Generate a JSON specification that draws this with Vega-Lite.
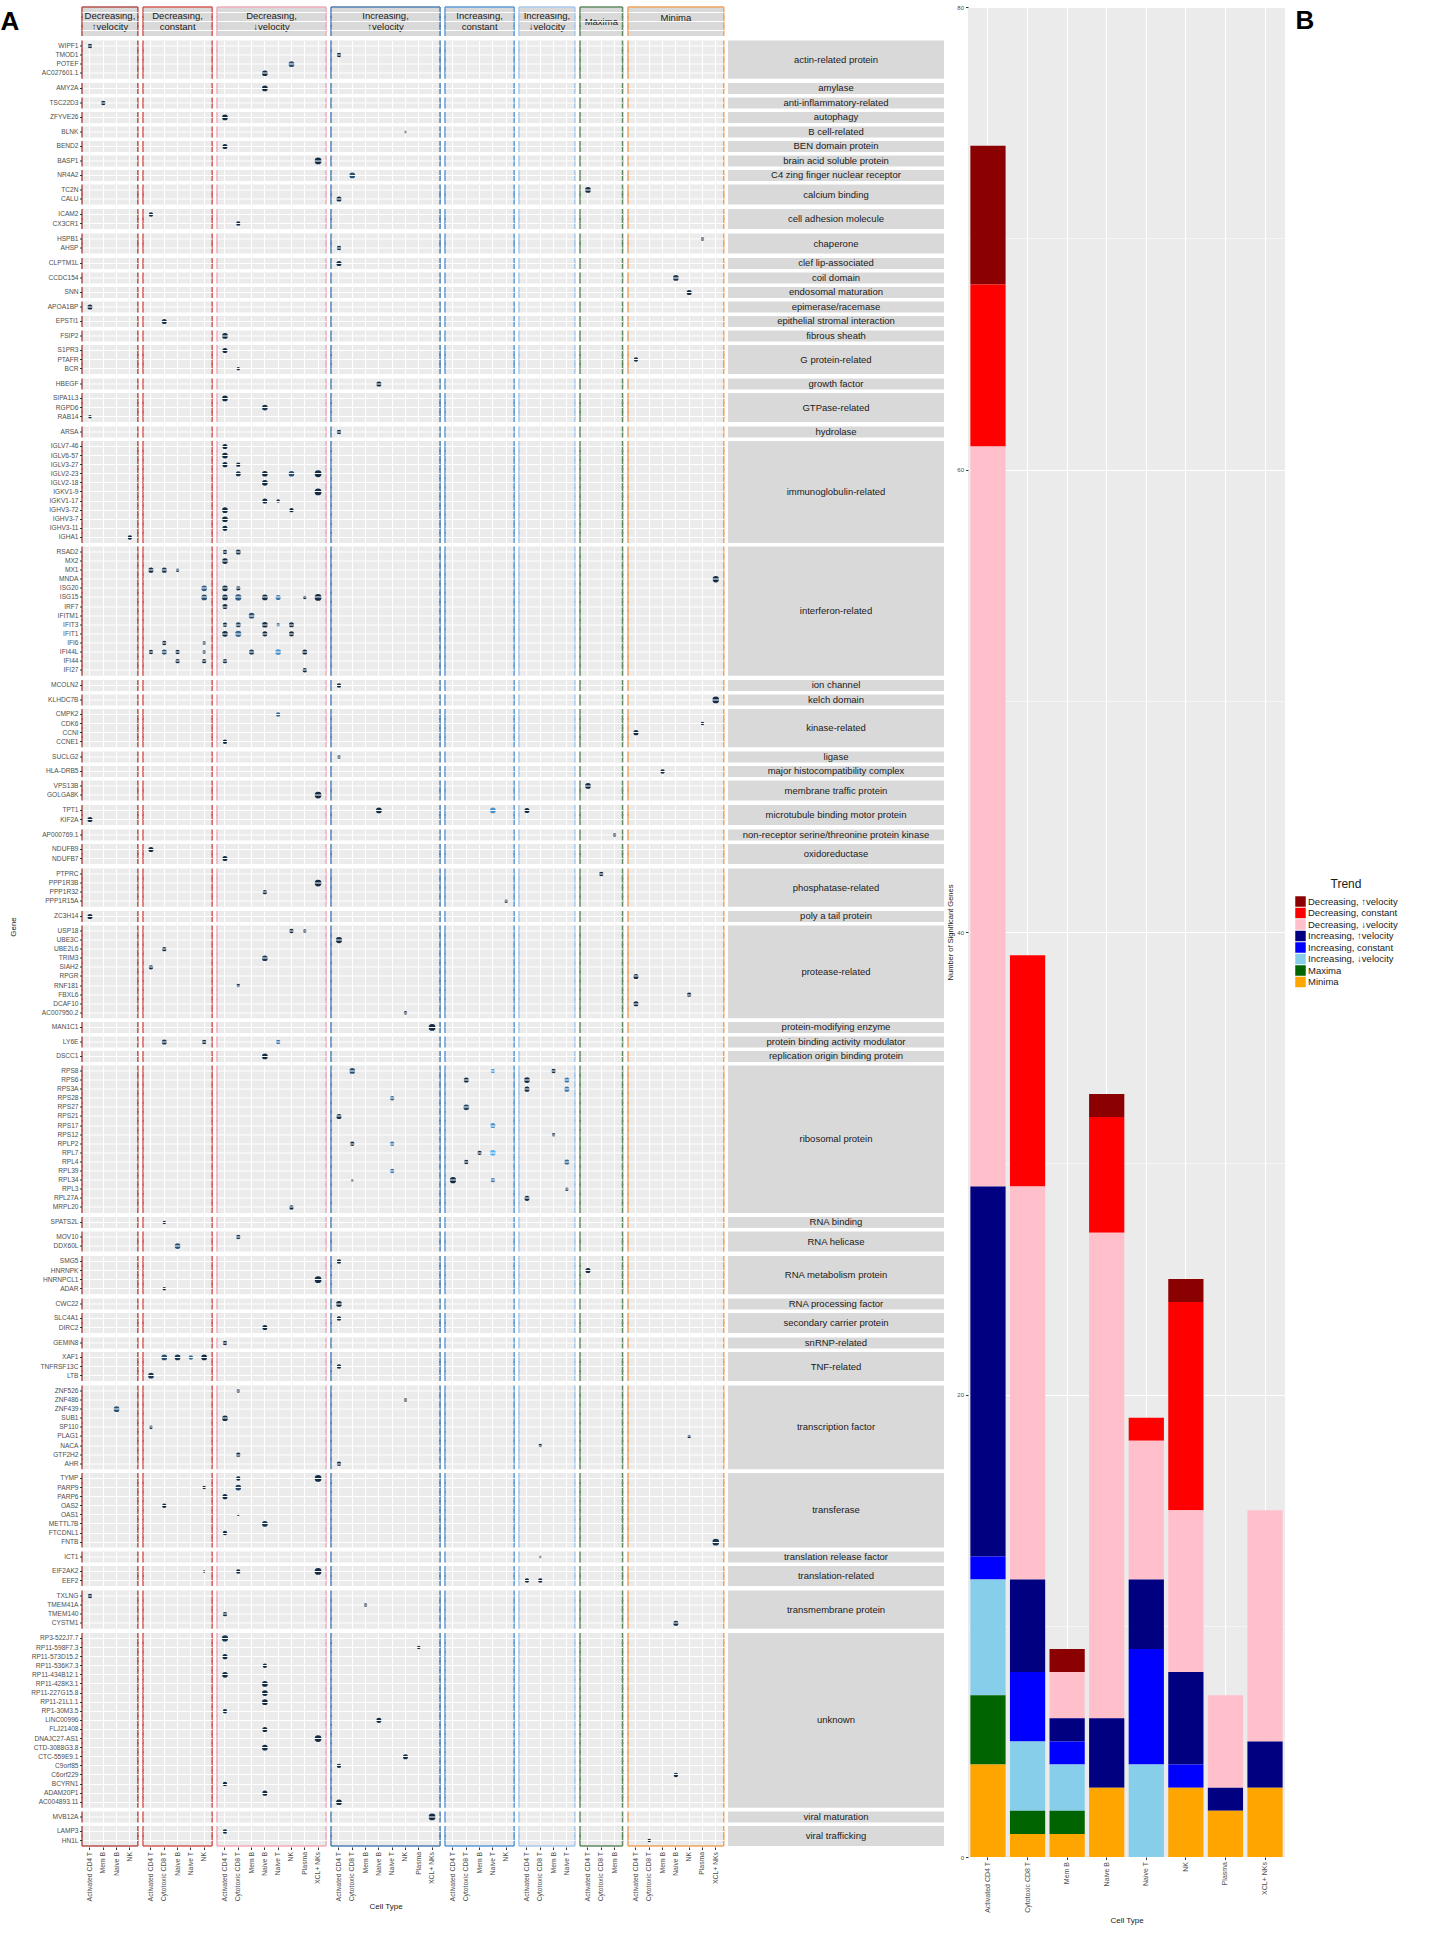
{
  "$schema": "https://vega.github.io/schema/vega-lite/v6.json",
  "background": "white",
  "padding": {"left": 0, "top": 4, "right": 2, "bottom": 2},
  "spacing": 2,
  "datasets": {
    "a": [
      {"k":"h","c":" ","g":"~1"},
      {"k":"h","c":" ","g":"~3"},
      {"k":"t","c":" ","g":"~2","t":"Decreasing, ↑velocity","lab":"Decreasing,\n↑velocity"},
      {"k":"t","c":" ","g":"~2","t":"Decreasing, constant","lab":"Decreasing,\nconstant"},
      {"k":"t","c":" ","g":"~2","t":"Decreasing, ↓velocity","lab":"Decreasing,\n↓velocity"},
      {"k":"t","c":" ","g":"~2","t":"Increasing, ↑velocity","lab":"Increasing,\n↑velocity"},
      {"k":"t","c":" ","g":"~2","t":"Increasing, constant","lab":"Increasing,\nconstant"},
      {"k":"t","c":" ","g":"~2","t":"Increasing, ↓velocity","lab":"Increasing,\n↓velocity"},
      {"k":"t","c":" ","g":"~2","t":"Maxima","lab":"Maxima"},
      {"k":"t","c":" ","g":"~2","t":"Minima","lab":"Minima"},

      {"k":"d","c":"actin-related protein","g":"WIPF1","t":"Decreasing, ↑velocity","ct":"Activated CD4 T","s":2,"v":0},
      {"k":"d","c":"actin-related protein","g":"TMOD1","t":"Increasing, ↑velocity","ct":"Activated CD4 T","s":2,"v":0},
      {"k":"d","c":"actin-related protein","g":"POTEF","t":"Decreasing, ↓velocity","ct":"NK","s":3,"v":0.3},
      {"k":"d","c":"actin-related protein","g":"AC027601.1","t":"Decreasing, ↓velocity","ct":"Naive B","s":3,"v":0},
      {"k":"d","c":"amylase","g":"AMY2A","t":"Decreasing, ↓velocity","ct":"Naive B","s":3,"v":0},
      {"k":"d","c":"anti-inflammatory-related","g":"TSC22D3","t":"Decreasing, ↑velocity","ct":"Mem B","s":2,"v":0},
      {"k":"d","c":"autophagy","g":"ZFYVE26","t":"Decreasing, ↓velocity","ct":"Activated CD4 T","s":3,"v":0},
      {"k":"d","c":"B cell-related","g":"BLNK","t":"Increasing, ↑velocity","ct":"NK","s":1,"v":0},
      {"k":"d","c":"BEN domain protein","g":"BEND2","t":"Decreasing, ↓velocity","ct":"Activated CD4 T","s":2.5,"v":0},
      {"k":"d","c":"brain acid soluble protein","g":"BASP1","t":"Decreasing, ↓velocity","ct":"XCL+ NKs","s":4,"v":0},
      {"k":"d","c":"C4 zing finger nuclear receptor","g":"NR4A2","t":"Increasing, ↑velocity","ct":"Cytotoxic CD8 T","s":3,"v":0.3},
      {"k":"d","c":"calcium binding","g":"TC2N","t":"Maxima","ct":"Activated CD4 T","s":3,"v":0},
      {"k":"d","c":"calcium binding","g":"CALU","t":"Increasing, ↑velocity","ct":"Activated CD4 T","s":2.5,"v":0},
      {"k":"d","c":"cell adhesion molecule","g":"ICAM2","t":"Decreasing, constant","ct":"Activated CD4 T","s":2,"v":0},
      {"k":"d","c":"cell adhesion molecule","g":"CX3CR1","t":"Decreasing, ↓velocity","ct":"Cytotoxic CD8 T","s":2,"v":0},
      {"k":"d","c":"chaperone","g":"HSPB1","t":"Minima","ct":"Plasma","s":1.5,"v":0},
      {"k":"d","c":"chaperone","g":"AHSP","t":"Increasing, ↑velocity","ct":"Activated CD4 T","s":2,"v":0},
      {"k":"d","c":"clef lip-associated","g":"CLPTM1L","t":"Increasing, ↑velocity","ct":"Activated CD4 T","s":2.5,"v":0},
      {"k":"d","c":"coil domain","g":"CCDC154","t":"Minima","ct":"Naive B","s":3,"v":0.1},
      {"k":"d","c":"endosomal maturation","g":"SNN","t":"Minima","ct":"NK","s":2.5,"v":0},
      {"k":"d","c":"epimerase/racemase","g":"APOA1BP","t":"Decreasing, ↑velocity","ct":"Activated CD4 T","s":2.5,"v":0},
      {"k":"d","c":"epithelial stromal interaction","g":"EPSTI1","t":"Decreasing, constant","ct":"Cytotoxic CD8 T","s":2.5,"v":0.1},
      {"k":"d","c":"fibrous sheath","g":"FSIP2","t":"Decreasing, ↓velocity","ct":"Activated CD4 T","s":3,"v":0},
      {"k":"d","c":"G protein-related","g":"S1PR3","t":"Decreasing, ↓velocity","ct":"Activated CD4 T","s":2.5,"v":0},
      {"k":"d","c":"G protein-related","g":"PTAFR","t":"Minima","ct":"Activated CD4 T","s":2,"v":0},
      {"k":"d","c":"G protein-related","g":"BCR","t":"Decreasing, ↓velocity","ct":"Cytotoxic CD8 T","s":1.5,"v":0},
      {"k":"d","c":"growth factor","g":"HBEGF","t":"Increasing, ↑velocity","ct":"Naive B","s":2.5,"v":0},
      {"k":"d","c":"GTPase-related","g":"SIPA1L3","t":"Decreasing, ↓velocity","ct":"Activated CD4 T","s":3,"v":0},
      {"k":"d","c":"GTPase-related","g":"RGPD6","t":"Decreasing, ↓velocity","ct":"Naive B","s":3,"v":0.1},
      {"k":"d","c":"GTPase-related","g":"RAB14","t":"Decreasing, ↑velocity","ct":"Activated CD4 T","s":1.5,"v":0},
      {"k":"d","c":"hydrolase","g":"ARSA","t":"Increasing, ↑velocity","ct":"Activated CD4 T","s":2,"v":0},
      {"k":"d","c":"immunoglobulin-related","g":"IGLV7-46","t":"Decreasing, ↓velocity","ct":"Activated CD4 T","s":2.5,"v":0},
      {"k":"d","c":"immunoglobulin-related","g":"IGLV6-57","t":"Decreasing, ↓velocity","ct":"Activated CD4 T","s":3,"v":0},
      {"k":"d","c":"immunoglobulin-related","g":"IGLV3-27","t":"Decreasing, ↓velocity","ct":"Activated CD4 T","s":2.5,"v":0},
      {"k":"d","c":"immunoglobulin-related","g":"IGLV3-27","t":"Decreasing, ↓velocity","ct":"Cytotoxic CD8 T","s":2,"v":0},
      {"k":"d","c":"immunoglobulin-related","g":"IGLV2-23","t":"Decreasing, ↓velocity","ct":"Cytotoxic CD8 T","s":2.5,"v":0.1},
      {"k":"d","c":"immunoglobulin-related","g":"IGLV2-23","t":"Decreasing, ↓velocity","ct":"Naive B","s":3,"v":0},
      {"k":"d","c":"immunoglobulin-related","g":"IGLV2-23","t":"Decreasing, ↓velocity","ct":"NK","s":3,"v":0.3},
      {"k":"d","c":"immunoglobulin-related","g":"IGLV2-23","t":"Decreasing, ↓velocity","ct":"XCL+ NKs","s":4,"v":0},
      {"k":"d","c":"immunoglobulin-related","g":"IGLV2-18","t":"Decreasing, ↓velocity","ct":"Naive B","s":3,"v":0},
      {"k":"d","c":"immunoglobulin-related","g":"IGKV1-9","t":"Decreasing, ↓velocity","ct":"XCL+ NKs","s":4,"v":0},
      {"k":"d","c":"immunoglobulin-related","g":"IGKV1-17","t":"Decreasing, ↓velocity","ct":"Naive B","s":2.5,"v":0},
      {"k":"d","c":"immunoglobulin-related","g":"IGKV1-17","t":"Decreasing, ↓velocity","ct":"Naive T","s":1.5,"v":0},
      {"k":"d","c":"immunoglobulin-related","g":"IGHV3-72","t":"Decreasing, ↓velocity","ct":"Activated CD4 T","s":3,"v":0},
      {"k":"d","c":"immunoglobulin-related","g":"IGHV3-72","t":"Decreasing, ↓velocity","ct":"NK","s":2,"v":0},
      {"k":"d","c":"immunoglobulin-related","g":"IGHV3-7","t":"Decreasing, ↓velocity","ct":"Activated CD4 T","s":3,"v":0},
      {"k":"d","c":"immunoglobulin-related","g":"IGHV3-11","t":"Decreasing, ↓velocity","ct":"Activated CD4 T","s":2.5,"v":0},
      {"k":"d","c":"immunoglobulin-related","g":"IGHA1","t":"Decreasing, ↑velocity","ct":"NK","s":2,"v":0},
      {"k":"d","c":"interferon-related","g":"RSAD2","t":"Decreasing, ↓velocity","ct":"Activated CD4 T","s":2,"v":0},
      {"k":"d","c":"interferon-related","g":"RSAD2","t":"Decreasing, ↓velocity","ct":"Cytotoxic CD8 T","s":2.5,"v":0.1},
      {"k":"d","c":"interferon-related","g":"MX2","t":"Decreasing, ↓velocity","ct":"Activated CD4 T","s":3,"v":0},
      {"k":"d","c":"interferon-related","g":"MX1","t":"Decreasing, constant","ct":"Activated CD4 T","s":2.5,"v":0},
      {"k":"d","c":"interferon-related","g":"MX1","t":"Decreasing, constant","ct":"Cytotoxic CD8 T","s":2.5,"v":0.1},
      {"k":"d","c":"interferon-related","g":"MX1","t":"Decreasing, constant","ct":"Naive B","s":1.5,"v":0},
      {"k":"d","c":"interferon-related","g":"MNDA","t":"Minima","ct":"XCL+ NKs","s":3.5,"v":0},
      {"k":"d","c":"interferon-related","g":"ISG20","t":"Decreasing, constant","ct":"NK","s":3,"v":0.4},
      {"k":"d","c":"interferon-related","g":"ISG20","t":"Decreasing, ↓velocity","ct":"Activated CD4 T","s":3,"v":0},
      {"k":"d","c":"interferon-related","g":"ISG20","t":"Decreasing, ↓velocity","ct":"Cytotoxic CD8 T","s":2,"v":0},
      {"k":"d","c":"interferon-related","g":"ISG15","t":"Decreasing, constant","ct":"NK","s":3,"v":0.3},
      {"k":"d","c":"interferon-related","g":"ISG15","t":"Decreasing, ↓velocity","ct":"Activated CD4 T","s":3,"v":0},
      {"k":"d","c":"interferon-related","g":"ISG15","t":"Decreasing, ↓velocity","ct":"Cytotoxic CD8 T","s":3.5,"v":0.4},
      {"k":"d","c":"interferon-related","g":"ISG15","t":"Decreasing, ↓velocity","ct":"Naive B","s":3,"v":0},
      {"k":"d","c":"interferon-related","g":"ISG15","t":"Decreasing, ↓velocity","ct":"Naive T","s":2.5,"v":0.6},
      {"k":"d","c":"interferon-related","g":"ISG15","t":"Decreasing, ↓velocity","ct":"Plasma","s":1.5,"v":0},
      {"k":"d","c":"interferon-related","g":"ISG15","t":"Decreasing, ↓velocity","ct":"XCL+ NKs","s":4,"v":0},
      {"k":"d","c":"interferon-related","g":"IRF7","t":"Decreasing, ↓velocity","ct":"Activated CD4 T","s":2.5,"v":0},
      {"k":"d","c":"interferon-related","g":"IFITM1","t":"Decreasing, ↓velocity","ct":"Mem B","s":3,"v":0.3},
      {"k":"d","c":"interferon-related","g":"IFIT3","t":"Decreasing, ↓velocity","ct":"Activated CD4 T","s":2,"v":0},
      {"k":"d","c":"interferon-related","g":"IFIT3","t":"Decreasing, ↓velocity","ct":"Cytotoxic CD8 T","s":2.5,"v":0.2},
      {"k":"d","c":"interferon-related","g":"IFIT3","t":"Decreasing, ↓velocity","ct":"Naive B","s":3,"v":0},
      {"k":"d","c":"interferon-related","g":"IFIT3","t":"Decreasing, ↓velocity","ct":"Naive T","s":1.5,"v":0.4},
      {"k":"d","c":"interferon-related","g":"IFIT3","t":"Decreasing, ↓velocity","ct":"NK","s":2.5,"v":0},
      {"k":"d","c":"interferon-related","g":"IFIT1","t":"Decreasing, ↓velocity","ct":"Activated CD4 T","s":3,"v":0},
      {"k":"d","c":"interferon-related","g":"IFIT1","t":"Decreasing, ↓velocity","ct":"Cytotoxic CD8 T","s":3.5,"v":0.5},
      {"k":"d","c":"interferon-related","g":"IFIT1","t":"Decreasing, ↓velocity","ct":"Naive B","s":2.5,"v":0},
      {"k":"d","c":"interferon-related","g":"IFIT1","t":"Decreasing, ↓velocity","ct":"NK","s":2.5,"v":0},
      {"k":"d","c":"interferon-related","g":"IFI6","t":"Decreasing, constant","ct":"Cytotoxic CD8 T","s":2,"v":0},
      {"k":"d","c":"interferon-related","g":"IFI6","t":"Decreasing, constant","ct":"NK","s":1.5,"v":0},
      {"k":"d","c":"interferon-related","g":"IFI44L","t":"Decreasing, constant","ct":"Activated CD4 T","s":2,"v":0},
      {"k":"d","c":"interferon-related","g":"IFI44L","t":"Decreasing, constant","ct":"Cytotoxic CD8 T","s":2.5,"v":0.3},
      {"k":"d","c":"interferon-related","g":"IFI44L","t":"Decreasing, constant","ct":"Naive B","s":2,"v":0},
      {"k":"d","c":"interferon-related","g":"IFI44L","t":"Decreasing, constant","ct":"NK","s":1.5,"v":0},
      {"k":"d","c":"interferon-related","g":"IFI44L","t":"Decreasing, ↓velocity","ct":"Mem B","s":2.5,"v":0.1},
      {"k":"d","c":"interferon-related","g":"IFI44L","t":"Decreasing, ↓velocity","ct":"Naive T","s":3,"v":0.8},
      {"k":"d","c":"interferon-related","g":"IFI44L","t":"Decreasing, ↓velocity","ct":"Plasma","s":2.5,"v":0},
      {"k":"d","c":"interferon-related","g":"IFI44","t":"Decreasing, constant","ct":"Naive B","s":2,"v":0},
      {"k":"d","c":"interferon-related","g":"IFI44","t":"Decreasing, constant","ct":"NK","s":2,"v":0},
      {"k":"d","c":"interferon-related","g":"IFI44","t":"Decreasing, ↓velocity","ct":"Activated CD4 T","s":2,"v":0},
      {"k":"d","c":"interferon-related","g":"IFI27","t":"Decreasing, ↓velocity","ct":"Plasma","s":2,"v":0},
      {"k":"d","c":"ion channel","g":"MCOLN2","t":"Increasing, ↑velocity","ct":"Activated CD4 T","s":2,"v":0},
      {"k":"d","c":"kelch domain","g":"KLHDC7B","t":"Minima","ct":"XCL+ NKs","s":4,"v":0},
      {"k":"d","c":"kinase-related","g":"CMPK2","t":"Decreasing, ↓velocity","ct":"Naive T","s":2,"v":0.5},
      {"k":"d","c":"kinase-related","g":"CDK6","t":"Minima","ct":"Plasma","s":1.5,"v":0},
      {"k":"d","c":"kinase-related","g":"CCNI","t":"Minima","ct":"Activated CD4 T","s":2.5,"v":0},
      {"k":"d","c":"kinase-related","g":"CCNE1","t":"Decreasing, ↓velocity","ct":"Activated CD4 T","s":2,"v":0},
      {"k":"d","c":"ligase","g":"SUCLG2","t":"Increasing, ↑velocity","ct":"Activated CD4 T","s":1.5,"v":0},
      {"k":"d","c":"major histocompatibility complex","g":"HLA-DRB5","t":"Minima","ct":"Mem B","s":2,"v":0},
      {"k":"d","c":"membrane traffic protein","g":"VPS13B","t":"Maxima","ct":"Activated CD4 T","s":3,"v":0},
      {"k":"d","c":"membrane traffic protein","g":"GOLGA8K","t":"Decreasing, ↓velocity","ct":"XCL+ NKs","s":4,"v":0},
      {"k":"d","c":"microtubule binding motor protein","g":"TPT1","t":"Increasing, ↑velocity","ct":"Naive B","s":3,"v":0},
      {"k":"d","c":"microtubule binding motor protein","g":"TPT1","t":"Increasing, constant","ct":"Naive T","s":3,"v":0.8},
      {"k":"d","c":"microtubule binding motor protein","g":"TPT1","t":"Increasing, ↓velocity","ct":"Activated CD4 T","s":2.5,"v":0},
      {"k":"d","c":"microtubule binding motor protein","g":"KIF2A","t":"Decreasing, ↑velocity","ct":"Activated CD4 T","s":2.5,"v":0},
      {"k":"d","c":"non-receptor serine/threonine protein kinase","g":"AP000769.1","t":"Maxima","ct":"Mem B","s":1.5,"v":0},
      {"k":"d","c":"oxidoreductase","g":"NDUFB9","t":"Decreasing, constant","ct":"Activated CD4 T","s":2.5,"v":0},
      {"k":"d","c":"oxidoreductase","g":"NDUFB7","t":"Decreasing, ↓velocity","ct":"Activated CD4 T","s":2.5,"v":0},
      {"k":"d","c":"phosphatase-related","g":"PTPRC","t":"Maxima","ct":"Cytotoxic CD8 T","s":2,"v":0},
      {"k":"d","c":"phosphatase-related","g":"PPP1R3B","t":"Decreasing, ↓velocity","ct":"XCL+ NKs","s":4,"v":0},
      {"k":"d","c":"phosphatase-related","g":"PPP1R32","t":"Decreasing, ↓velocity","ct":"Naive B","s":2,"v":0},
      {"k":"d","c":"phosphatase-related","g":"PPP1R15A","t":"Increasing, constant","ct":"NK","s":1.5,"v":0},
      {"k":"d","c":"poly a tail protein","g":"ZC3H14","t":"Decreasing, ↑velocity","ct":"Activated CD4 T","s":2.5,"v":0},
      {"k":"d","c":"protease-related","g":"USP18","t":"Decreasing, ↓velocity","ct":"NK","s":2,"v":0},
      {"k":"d","c":"protease-related","g":"USP18","t":"Decreasing, ↓velocity","ct":"Plasma","s":1.5,"v":0},
      {"k":"d","c":"protease-related","g":"UBE3C","t":"Increasing, ↑velocity","ct":"Activated CD4 T","s":3.5,"v":0},
      {"k":"d","c":"protease-related","g":"UBE2L6","t":"Decreasing, constant","ct":"Cytotoxic CD8 T","s":2,"v":0},
      {"k":"d","c":"protease-related","g":"TRIM3","t":"Decreasing, ↓velocity","ct":"Naive B","s":3,"v":0.1},
      {"k":"d","c":"protease-related","g":"SIAH2","t":"Decreasing, constant","ct":"Activated CD4 T","s":2,"v":0},
      {"k":"d","c":"protease-related","g":"RPGR","t":"Minima","ct":"Activated CD4 T","s":2.5,"v":0},
      {"k":"d","c":"protease-related","g":"RNF181","t":"Decreasing, ↓velocity","ct":"Cytotoxic CD8 T","s":1.5,"v":0},
      {"k":"d","c":"protease-related","g":"FBXL6","t":"Minima","ct":"NK","s":2,"v":0},
      {"k":"d","c":"protease-related","g":"DCAF10","t":"Minima","ct":"Activated CD4 T","s":2.5,"v":0},
      {"k":"d","c":"protease-related","g":"AC007950.2","t":"Increasing, ↑velocity","ct":"NK","s":1.5,"v":0},
      {"k":"d","c":"protein-modifying enzyme","g":"MAN1C1","t":"Increasing, ↑velocity","ct":"XCL+ NKs","s":4,"v":0},
      {"k":"d","c":"protein binding activity modulator","g":"LY6E","t":"Decreasing, constant","ct":"Cytotoxic CD8 T","s":2.5,"v":0.1},
      {"k":"d","c":"protein binding activity modulator","g":"LY6E","t":"Decreasing, constant","ct":"NK","s":2,"v":0},
      {"k":"d","c":"protein binding activity modulator","g":"LY6E","t":"Decreasing, ↓velocity","ct":"Naive T","s":2,"v":0.6},
      {"k":"d","c":"replication origin binding protein","g":"DSCC1","t":"Decreasing, ↓velocity","ct":"Naive B","s":3,"v":0},
      {"k":"d","c":"ribosomal protein","g":"RPS8","t":"Increasing, ↑velocity","ct":"Cytotoxic CD8 T","s":3,"v":0.3},
      {"k":"d","c":"ribosomal protein","g":"RPS8","t":"Increasing, constant","ct":"Naive T","s":2,"v":0.9},
      {"k":"d","c":"ribosomal protein","g":"RPS8","t":"Increasing, ↓velocity","ct":"Mem B","s":2,"v":0},
      {"k":"d","c":"ribosomal protein","g":"RPS6","t":"Increasing, constant","ct":"Cytotoxic CD8 T","s":2.5,"v":0},
      {"k":"d","c":"ribosomal protein","g":"RPS6","t":"Increasing, ↓velocity","ct":"Activated CD4 T","s":3,"v":0},
      {"k":"d","c":"ribosomal protein","g":"RPS6","t":"Increasing, ↓velocity","ct":"Naive T","s":2.5,"v":0.6},
      {"k":"d","c":"ribosomal protein","g":"RPS3A","t":"Increasing, ↓velocity","ct":"Activated CD4 T","s":2.5,"v":0},
      {"k":"d","c":"ribosomal protein","g":"RPS3A","t":"Increasing, ↓velocity","ct":"Naive T","s":2.5,"v":0.6},
      {"k":"d","c":"ribosomal protein","g":"RPS28","t":"Increasing, ↑velocity","ct":"Naive T","s":2,"v":0.5},
      {"k":"d","c":"ribosomal protein","g":"RPS27","t":"Increasing, constant","ct":"Cytotoxic CD8 T","s":3,"v":0.2},
      {"k":"d","c":"ribosomal protein","g":"RPS21","t":"Increasing, ↑velocity","ct":"Activated CD4 T","s":2.5,"v":0},
      {"k":"d","c":"ribosomal protein","g":"RPS17","t":"Increasing, constant","ct":"Naive T","s":2.5,"v":0.8},
      {"k":"d","c":"ribosomal protein","g":"RPS12","t":"Increasing, ↓velocity","ct":"Mem B","s":1.5,"v":0},
      {"k":"d","c":"ribosomal protein","g":"RPLP2","t":"Increasing, ↑velocity","ct":"Cytotoxic CD8 T","s":2,"v":0},
      {"k":"d","c":"ribosomal protein","g":"RPLP2","t":"Increasing, ↑velocity","ct":"Naive T","s":2,"v":0.6},
      {"k":"d","c":"ribosomal protein","g":"RPL7","t":"Increasing, constant","ct":"Mem B","s":2,"v":0},
      {"k":"d","c":"ribosomal protein","g":"RPL7","t":"Increasing, constant","ct":"Naive T","s":3,"v":1},
      {"k":"d","c":"ribosomal protein","g":"RPL4","t":"Increasing, constant","ct":"Cytotoxic CD8 T","s":2,"v":0},
      {"k":"d","c":"ribosomal protein","g":"RPL4","t":"Increasing, ↓velocity","ct":"Naive T","s":2.5,"v":0.5},
      {"k":"d","c":"ribosomal protein","g":"RPL39","t":"Increasing, ↑velocity","ct":"Naive T","s":2,"v":0.6},
      {"k":"d","c":"ribosomal protein","g":"RPL34","t":"Increasing, ↑velocity","ct":"Cytotoxic CD8 T","s":1,"v":0},
      {"k":"d","c":"ribosomal protein","g":"RPL34","t":"Increasing, constant","ct":"Activated CD4 T","s":3.5,"v":0},
      {"k":"d","c":"ribosomal protein","g":"RPL34","t":"Increasing, constant","ct":"Naive T","s":2,"v":0.6},
      {"k":"d","c":"ribosomal protein","g":"RPL3","t":"Increasing, ↓velocity","ct":"Naive T","s":1.5,"v":0},
      {"k":"d","c":"ribosomal protein","g":"RPL27A","t":"Increasing, ↓velocity","ct":"Activated CD4 T","s":2.5,"v":0},
      {"k":"d","c":"ribosomal protein","g":"MRPL20","t":"Decreasing, ↓velocity","ct":"NK","s":2,"v":0},
      {"k":"d","c":"RNA binding","g":"SPATS2L","t":"Decreasing, constant","ct":"Cytotoxic CD8 T","s":1.5,"v":0},
      {"k":"d","c":"RNA helicase","g":"MOV10","t":"Decreasing, ↓velocity","ct":"Cytotoxic CD8 T","s":2,"v":0.1},
      {"k":"d","c":"RNA helicase","g":"DDX60L","t":"Decreasing, constant","ct":"Naive B","s":3,"v":0.3},
      {"k":"d","c":"RNA metabolism protein","g":"SMG5","t":"Increasing, ↑velocity","ct":"Activated CD4 T","s":2,"v":0},
      {"k":"d","c":"RNA metabolism protein","g":"HNRNPK","t":"Maxima","ct":"Activated CD4 T","s":2.5,"v":0},
      {"k":"d","c":"RNA metabolism protein","g":"HNRNPCL1","t":"Decreasing, ↓velocity","ct":"XCL+ NKs","s":4,"v":0},
      {"k":"d","c":"RNA metabolism protein","g":"ADAR","t":"Decreasing, constant","ct":"Cytotoxic CD8 T","s":1.5,"v":0},
      {"k":"d","c":"RNA processing factor","g":"CWC22","t":"Increasing, ↑velocity","ct":"Activated CD4 T","s":3,"v":0},
      {"k":"d","c":"secondary carrier protein","g":"SLC4A1","t":"Increasing, ↑velocity","ct":"Activated CD4 T","s":2,"v":0},
      {"k":"d","c":"secondary carrier protein","g":"DIRC2","t":"Decreasing, ↓velocity","ct":"Naive B","s":2.5,"v":0},
      {"k":"d","c":"snRNP-related","g":"GEMIN8","t":"Decreasing, ↓velocity","ct":"Activated CD4 T","s":2,"v":0},
      {"k":"d","c":"TNF-related","g":"XAF1","t":"Decreasing, constant","ct":"Cytotoxic CD8 T","s":3,"v":0.3},
      {"k":"d","c":"TNF-related","g":"XAF1","t":"Decreasing, constant","ct":"Naive B","s":3,"v":0.1},
      {"k":"d","c":"TNF-related","g":"XAF1","t":"Decreasing, constant","ct":"Naive T","s":2,"v":0.5},
      {"k":"d","c":"TNF-related","g":"XAF1","t":"Decreasing, constant","ct":"NK","s":3,"v":0},
      {"k":"d","c":"TNF-related","g":"TNFRSF13C","t":"Increasing, ↑velocity","ct":"Activated CD4 T","s":2,"v":0},
      {"k":"d","c":"TNF-related","g":"LTB","t":"Decreasing, constant","ct":"Activated CD4 T","s":3,"v":0.1},
      {"k":"d","c":"transcription factor","g":"ZNF526","t":"Decreasing, ↓velocity","ct":"Cytotoxic CD8 T","s":1.5,"v":0},
      {"k":"d","c":"transcription factor","g":"ZNF486","t":"Increasing, ↑velocity","ct":"NK","s":1.5,"v":0},
      {"k":"d","c":"transcription factor","g":"ZNF439","t":"Decreasing, ↑velocity","ct":"Naive B","s":3,"v":0.3},
      {"k":"d","c":"transcription factor","g":"SUB1","t":"Decreasing, ↓velocity","ct":"Activated CD4 T","s":3,"v":0},
      {"k":"d","c":"transcription factor","g":"SP110","t":"Decreasing, constant","ct":"Activated CD4 T","s":1.5,"v":0},
      {"k":"d","c":"transcription factor","g":"PLAG1","t":"Minima","ct":"NK","s":1.5,"v":0},
      {"k":"d","c":"transcription factor","g":"NACA","t":"Increasing, ↓velocity","ct":"Cytotoxic CD8 T","s":1.5,"v":0},
      {"k":"d","c":"transcription factor","g":"GTF2H2","t":"Decreasing, ↓velocity","ct":"Cytotoxic CD8 T","s":2,"v":0},
      {"k":"d","c":"transcription factor","g":"AHR","t":"Increasing, ↑velocity","ct":"Activated CD4 T","s":2,"v":0},
      {"k":"d","c":"transferase","g":"TYMP","t":"Decreasing, ↓velocity","ct":"Cytotoxic CD8 T","s":2,"v":0},
      {"k":"d","c":"transferase","g":"TYMP","t":"Decreasing, ↓velocity","ct":"XCL+ NKs","s":4,"v":0},
      {"k":"d","c":"transferase","g":"PARP9","t":"Decreasing, constant","ct":"NK","s":1.5,"v":0},
      {"k":"d","c":"transferase","g":"PARP9","t":"Decreasing, ↓velocity","ct":"Cytotoxic CD8 T","s":3,"v":0.2},
      {"k":"d","c":"transferase","g":"PARP6","t":"Decreasing, ↓velocity","ct":"Activated CD4 T","s":2.5,"v":0},
      {"k":"d","c":"transferase","g":"OAS2","t":"Decreasing, constant","ct":"Cytotoxic CD8 T","s":2,"v":0},
      {"k":"d","c":"transferase","g":"OAS1","t":"Decreasing, ↓velocity","ct":"Cytotoxic CD8 T","s":1,"v":0},
      {"k":"d","c":"transferase","g":"METTL7B","t":"Decreasing, ↓velocity","ct":"Naive B","s":3,"v":0.1},
      {"k":"d","c":"transferase","g":"FTCDNL1","t":"Decreasing, ↓velocity","ct":"Activated CD4 T","s":2,"v":0},
      {"k":"d","c":"transferase","g":"FNTB","t":"Minima","ct":"XCL+ NKs","s":4,"v":0.1},
      {"k":"d","c":"translation release factor","g":"ICT1","t":"Increasing, ↓velocity","ct":"Cytotoxic CD8 T","s":1,"v":0},
      {"k":"d","c":"translation-related","g":"EIF2AK2","t":"Decreasing, constant","ct":"NK","s":1,"v":0},
      {"k":"d","c":"translation-related","g":"EIF2AK2","t":"Decreasing, ↓velocity","ct":"Cytotoxic CD8 T","s":2,"v":0},
      {"k":"d","c":"translation-related","g":"EIF2AK2","t":"Decreasing, ↓velocity","ct":"XCL+ NKs","s":4,"v":0},
      {"k":"d","c":"translation-related","g":"EEF2","t":"Increasing, ↓velocity","ct":"Activated CD4 T","s":2,"v":0},
      {"k":"d","c":"translation-related","g":"EEF2","t":"Increasing, ↓velocity","ct":"Cytotoxic CD8 T","s":2,"v":0},
      {"k":"d","c":"transmembrane protein","g":"TXLNG","t":"Decreasing, ↑velocity","ct":"Activated CD4 T","s":2,"v":0},
      {"k":"d","c":"transmembrane protein","g":"TMEM41A","t":"Increasing, ↑velocity","ct":"Mem B","s":1.5,"v":0},
      {"k":"d","c":"transmembrane protein","g":"TMEM140","t":"Decreasing, ↓velocity","ct":"Activated CD4 T","s":2,"v":0},
      {"k":"d","c":"transmembrane protein","g":"CYSTM1","t":"Minima","ct":"Naive B","s":2.5,"v":0},
      {"k":"d","c":"unknown","g":"RP3-522J7.7","t":"Decreasing, ↓velocity","ct":"Activated CD4 T","s":3.5,"v":0.1},
      {"k":"d","c":"unknown","g":"RP11-598F7.3","t":"Increasing, ↑velocity","ct":"Plasma","s":1.5,"v":0},
      {"k":"d","c":"unknown","g":"RP11-573D15.2","t":"Decreasing, ↓velocity","ct":"Activated CD4 T","s":2.5,"v":0},
      {"k":"d","c":"unknown","g":"RP11-536K7.3","t":"Decreasing, ↓velocity","ct":"Naive B","s":2,"v":0},
      {"k":"d","c":"unknown","g":"RP11-434B12.1","t":"Decreasing, ↓velocity","ct":"Activated CD4 T","s":3,"v":0},
      {"k":"d","c":"unknown","g":"RP11-428K3.1","t":"Decreasing, ↓velocity","ct":"Naive B","s":3,"v":0},
      {"k":"d","c":"unknown","g":"RP11-227G15.8","t":"Decreasing, ↓velocity","ct":"Naive B","s":3,"v":0},
      {"k":"d","c":"unknown","g":"RP11-21L1.1","t":"Decreasing, ↓velocity","ct":"Naive B","s":3,"v":0},
      {"k":"d","c":"unknown","g":"RP1-30M3.5","t":"Decreasing, ↓velocity","ct":"Activated CD4 T","s":2,"v":0},
      {"k":"d","c":"unknown","g":"LINC00996","t":"Increasing, ↑velocity","ct":"Naive B","s":2.5,"v":0},
      {"k":"d","c":"unknown","g":"FLJ21408","t":"Decreasing, ↓velocity","ct":"Naive B","s":2.5,"v":0},
      {"k":"d","c":"unknown","g":"DNAJC27-AS1","t":"Decreasing, ↓velocity","ct":"XCL+ NKs","s":4,"v":0},
      {"k":"d","c":"unknown","g":"CTD-3088G3.8","t":"Decreasing, ↓velocity","ct":"Naive B","s":3,"v":0},
      {"k":"d","c":"unknown","g":"CTC-559E9.1","t":"Increasing, ↑velocity","ct":"NK","s":2.5,"v":0},
      {"k":"d","c":"unknown","g":"C9orf85","t":"Increasing, ↑velocity","ct":"Activated CD4 T","s":2,"v":0},
      {"k":"d","c":"unknown","g":"C6orf229","t":"Minima","ct":"Naive B","s":2,"v":0},
      {"k":"d","c":"unknown","g":"BCYRN1","t":"Decreasing, ↓velocity","ct":"Activated CD4 T","s":2,"v":0},
      {"k":"d","c":"unknown","g":"ADAM20P1","t":"Decreasing, ↓velocity","ct":"Naive B","s":2.5,"v":0},
      {"k":"d","c":"unknown","g":"AC004893.11","t":"Increasing, ↑velocity","ct":"Activated CD4 T","s":3,"v":0},
      {"k":"d","c":"viral maturation","g":"MVB12A","t":"Increasing, ↑velocity","ct":"XCL+ NKs","s":4,"v":0},
      {"k":"d","c":"viral trafficking","g":"LAMP3","t":"Decreasing, ↓velocity","ct":"Activated CD4 T","s":2,"v":0},
      {"k":"d","c":"viral trafficking","g":"HN1L","t":"Minima","ct":"Cytotoxic CD8 T","s":1.5,"v":0}
    ],
    "b": [
      {"ct":"Activated CD4 T","t":"Decreasing, ↑velocity","n":6},
      {"ct":"Activated CD4 T","t":"Decreasing, constant","n":7},
      {"ct":"Activated CD4 T","t":"Decreasing, ↓velocity","n":32},
      {"ct":"Activated CD4 T","t":"Increasing, ↑velocity","n":16},
      {"ct":"Activated CD4 T","t":"Increasing, constant","n":1},
      {"ct":"Activated CD4 T","t":"Increasing, ↓velocity","n":5},
      {"ct":"Activated CD4 T","t":"Maxima","n":3},
      {"ct":"Activated CD4 T","t":"Minima","n":4},
      {"ct":"Cytotoxic CD8 T","t":"Decreasing, constant","n":10},
      {"ct":"Cytotoxic CD8 T","t":"Decreasing, ↓velocity","n":17},
      {"ct":"Cytotoxic CD8 T","t":"Increasing, ↑velocity","n":4},
      {"ct":"Cytotoxic CD8 T","t":"Increasing, constant","n":3},
      {"ct":"Cytotoxic CD8 T","t":"Increasing, ↓velocity","n":3},
      {"ct":"Cytotoxic CD8 T","t":"Maxima","n":1},
      {"ct":"Cytotoxic CD8 T","t":"Minima","n":1},
      {"ct":"Mem B","t":"Decreasing, ↑velocity","n":1},
      {"ct":"Mem B","t":"Decreasing, ↓velocity","n":2},
      {"ct":"Mem B","t":"Increasing, ↑velocity","n":1},
      {"ct":"Mem B","t":"Increasing, constant","n":1},
      {"ct":"Mem B","t":"Increasing, ↓velocity","n":2},
      {"ct":"Mem B","t":"Maxima","n":1},
      {"ct":"Mem B","t":"Minima","n":1},
      {"ct":"Naive B","t":"Decreasing, ↑velocity","n":1},
      {"ct":"Naive B","t":"Decreasing, constant","n":5},
      {"ct":"Naive B","t":"Decreasing, ↓velocity","n":21},
      {"ct":"Naive B","t":"Increasing, ↑velocity","n":3},
      {"ct":"Naive B","t":"Minima","n":3},
      {"ct":"Naive T","t":"Decreasing, constant","n":1},
      {"ct":"Naive T","t":"Decreasing, ↓velocity","n":6},
      {"ct":"Naive T","t":"Increasing, ↑velocity","n":3},
      {"ct":"Naive T","t":"Increasing, constant","n":5},
      {"ct":"Naive T","t":"Increasing, ↓velocity","n":4},
      {"ct":"NK","t":"Decreasing, ↑velocity","n":1},
      {"ct":"NK","t":"Decreasing, constant","n":9},
      {"ct":"NK","t":"Decreasing, ↓velocity","n":7},
      {"ct":"NK","t":"Increasing, ↑velocity","n":4},
      {"ct":"NK","t":"Increasing, constant","n":1},
      {"ct":"NK","t":"Minima","n":3},
      {"ct":"Plasma","t":"Decreasing, ↓velocity","n":4},
      {"ct":"Plasma","t":"Increasing, ↑velocity","n":1},
      {"ct":"Plasma","t":"Minima","n":2},
      {"ct":"XCL+ NKs","t":"Decreasing, ↓velocity","n":10},
      {"ct":"XCL+ NKs","t":"Increasing, ↑velocity","n":2},
      {"ct":"XCL+ NKs","t":"Minima","n":3}
    ]
  },
  "hconcat": [
    {
      "spacing": 3,
      "hconcat": [
        {
          "data": {"name": "a"},
          "facet": {"row": {"field": "c", "type": "nominal", "title": "Gene",
            "sort": [" ","actin-related protein","amylase","anti-inflammatory-related","autophagy","B cell-related","BEN domain protein","brain acid soluble protein","C4 zing finger nuclear receptor","calcium binding","cell adhesion molecule","chaperone","clef lip-associated","coil domain","endosomal maturation","epimerase/racemase","epithelial stromal interaction","fibrous sheath","G protein-related","growth factor","GTPase-related","hydrolase","immunoglobulin-related","interferon-related","ion channel","kelch domain","kinase-related","ligase","major histocompatibility complex","membrane traffic protein","microtubule binding motor protein","non-receptor serine/threonine protein kinase","oxidoreductase","phosphatase-related","poly a tail protein","protease-related","protein-modifying enzyme","protein binding activity modulator","replication origin binding protein","ribosomal protein","RNA binding","RNA helicase","RNA metabolism protein","RNA processing factor","secondary carrier protein","snRNP-related","TNF-related","transcription factor","transferase","translation release factor","translation-related","transmembrane protein","unknown","viral maturation","viral trafficking"],
            "header": {"labelOrient": "left", "labelAngle": 0, "labelExpr": "datum.value == ' ' ? 'A' : ''", "labelFontSize": 26, "labelFontWeight": "bold", "labelColor": "#000000", "labelPadding": 44, "titleOrient": "left", "titleFontSize": 8, "titleFontWeight": "normal", "titleColor": "#1A1A1A", "titlePadding": -28}}},
          "spacing": {"row": 3.5},
          "align": "each",
          "bounds": "flush",
          "resolve": {"scale": {"y": "independent"}},
          "spec": {
            "width": {"step": 13.3},
            "height": {"step": 9.1},
            "layer": [
              {"transform": [{"filter": "datum.c == ' '"}], "mark": {"type": "rect", "fill": "#D9D9D9"},
               "encoding": {"y": {"field": "g", "type": "nominal", "sort": "descending", "bandPosition": -0.1}, "y2": {"field": "g", "bandPosition": 1.1}}},
              {"transform": [{"filter": "isValid(datum.g)"}], "mark": {"type": "point", "opacity": 0},
               "encoding": {"y": {"field": "g", "type": "nominal", "sort": "descending", "scale": {"type": "band", "paddingInner": 0, "paddingOuter": 0.1},
                 "axis": {"title": null, "labelFontSize": 6.6, "labelPadding": 1.5, "grid": true, "bandPosition": 0.5, "labelExpr": "indexof(datum.value, '~') == 0 ? '' : datum.value", "tickOpacity": {"condition": {"test": "indexof(datum.value, '~') == 0", "value": 0}, "value": 1}}}}},
              {"transform": [{"filter": "datum.k == 't' && datum.t == 'Decreasing, ↑velocity'"}], "mark": {"type": "text", "lineBreak": "\n", "fontSize": 9.5, "lineHeight": 11, "dy": -5.5, "color": "#1A1A1A"},
               "encoding": {"y": {"field": "g", "type": "nominal", "sort": "descending"}, "text": {"field": "lab"}}},
              {"transform": [{"filter": "isValid(datum.g)"}, {"aggregate": [{"op": "count", "as": "m"}], "groupby": ["c", "g"]}], "mark": {"type": "rule", "color": "#B4504B", "strokeWidth": 1.5},
               "encoding": {"x": {"datum": "Activated CD4 T", "type": "nominal", "bandPosition": -0.1}, "y": {"field": "g", "type": "nominal", "sort": "descending", "bandPosition": -0.1}, "y2": {"field": "g", "bandPosition": 1.1}}},
              {"transform": [{"filter": "isValid(datum.g)"}, {"aggregate": [{"op": "count", "as": "m"}], "groupby": ["c", "g"]}], "mark": {"type": "rule", "color": "#B4504B", "strokeWidth": 1.5},
               "encoding": {"x": {"datum": "NK", "type": "nominal", "bandPosition": 1.1}, "y": {"field": "g", "type": "nominal", "sort": "descending", "bandPosition": -0.1}, "y2": {"field": "g", "bandPosition": 1.1}}},
              {"transform": [{"filter": "datum.g == '~3'"}], "mark": {"type": "rule", "color": "#B4504B", "strokeWidth": 1.5},
               "encoding": {"x": {"datum": "Activated CD4 T", "type": "nominal", "bandPosition": -0.1}, "x2": {"datum": "NK", "bandPosition": 1.1}, "y": {"field": "g", "type": "nominal", "sort": "descending", "bandPosition": -0.1}}},
              {"transform": [{"filter": "datum.c == 'viral trafficking'"}, {"aggregate": [{"op": "min", "field": "g", "as": "g"}], "groupby": ["c"]}], "mark": {"type": "rule", "color": "#B4504B", "strokeWidth": 1.5},
               "encoding": {"x": {"datum": "Activated CD4 T", "type": "nominal", "bandPosition": -0.1}, "x2": {"datum": "NK", "bandPosition": 1.1}, "y": {"field": "g", "type": "nominal", "sort": "descending", "bandPosition": 1.1}}},
              {"transform": [{"filter": "datum.k == 'd' && datum.t == 'Decreasing, ↑velocity'"}], "mark": {"type": "circle", "opacity": 1},
               "encoding": {
                 "x": {"field": "ct", "type": "nominal", "title": null, "scale": {"domain": ["Activated CD4 T","Mem B","Naive B","NK"], "paddingInner": 0, "paddingOuter": 0.1}, "axis": {"labelAngle": 270, "labelFontSize": 6.8, "labelPadding": 2, "grid": true, "bandPosition": 0.5}},
                 "y": {"field": "g", "type": "nominal", "sort": "descending"},
                 "size": {"field": "s", "type": "quantitative", "scale": {"domain": [1, 4], "range": [6, 46]}, "legend": null},
                 "color": {"field": "v", "type": "quantitative", "scale": {"domain": [0, 1], "range": ["#132B43", "#56B1F7"]}, "legend": null}}}
            ]
          }
        },
        {
          "data": {"name": "a"},
          "facet": {"row": {"field": "c", "type": "nominal", "header": null,
            "sort": [" ","actin-related protein","amylase","anti-inflammatory-related","autophagy","B cell-related","BEN domain protein","brain acid soluble protein","C4 zing finger nuclear receptor","calcium binding","cell adhesion molecule","chaperone","clef lip-associated","coil domain","endosomal maturation","epimerase/racemase","epithelial stromal interaction","fibrous sheath","G protein-related","growth factor","GTPase-related","hydrolase","immunoglobulin-related","interferon-related","ion channel","kelch domain","kinase-related","ligase","major histocompatibility complex","membrane traffic protein","microtubule binding motor protein","non-receptor serine/threonine protein kinase","oxidoreductase","phosphatase-related","poly a tail protein","protease-related","protein-modifying enzyme","protein binding activity modulator","replication origin binding protein","ribosomal protein","RNA binding","RNA helicase","RNA metabolism protein","RNA processing factor","secondary carrier protein","snRNP-related","TNF-related","transcription factor","transferase","translation release factor","translation-related","transmembrane protein","unknown","viral maturation","viral trafficking"]}},
          "spacing": {"row": 3.5},
          "align": "each",
          "bounds": "flush",
          "resolve": {"scale": {"y": "independent"}},
          "spec": {
            "width": {"step": 13.3},
            "height": {"step": 9.1},
            "layer": [
              {"transform": [{"filter": "datum.c == ' '"}], "mark": {"type": "rect", "fill": "#D9D9D9"},
               "encoding": {"y": {"field": "g", "type": "nominal", "sort": "descending", "bandPosition": -0.1}, "y2": {"field": "g", "bandPosition": 1.1}}},
              {"transform": [{"filter": "isValid(datum.g)"}], "mark": {"type": "point", "opacity": 0},
               "encoding": {"y": {"field": "g", "type": "nominal", "sort": "descending", "scale": {"type": "band", "paddingInner": 0, "paddingOuter": 0.1}, "axis": {"title": null, "labels": false, "ticks": false, "grid": true, "bandPosition": 0.5}}}},
              {"transform": [{"filter": "datum.k == 't' && datum.t == 'Decreasing, constant'"}], "mark": {"type": "text", "lineBreak": "\n", "fontSize": 9.5, "lineHeight": 11, "dy": -5.5, "color": "#1A1A1A"},
               "encoding": {"y": {"field": "g", "type": "nominal", "sort": "descending"}, "text": {"field": "lab"}}},
              {"transform": [{"filter": "isValid(datum.g)"}, {"aggregate": [{"op": "count", "as": "m"}], "groupby": ["c", "g"]}], "mark": {"type": "rule", "color": "#D65A57", "strokeWidth": 1.5},
               "encoding": {"x": {"datum": "Activated CD4 T", "type": "nominal", "bandPosition": -0.1}, "y": {"field": "g", "type": "nominal", "sort": "descending", "bandPosition": -0.1}, "y2": {"field": "g", "bandPosition": 1.1}}},
              {"transform": [{"filter": "isValid(datum.g)"}, {"aggregate": [{"op": "count", "as": "m"}], "groupby": ["c", "g"]}], "mark": {"type": "rule", "color": "#D65A57", "strokeWidth": 1.5},
               "encoding": {"x": {"datum": "NK", "type": "nominal", "bandPosition": 1.1}, "y": {"field": "g", "type": "nominal", "sort": "descending", "bandPosition": -0.1}, "y2": {"field": "g", "bandPosition": 1.1}}},
              {"transform": [{"filter": "datum.g == '~3'"}], "mark": {"type": "rule", "color": "#D65A57", "strokeWidth": 1.5},
               "encoding": {"x": {"datum": "Activated CD4 T", "type": "nominal", "bandPosition": -0.1}, "x2": {"datum": "NK", "bandPosition": 1.1}, "y": {"field": "g", "type": "nominal", "sort": "descending", "bandPosition": -0.1}}},
              {"transform": [{"filter": "datum.c == 'viral trafficking'"}, {"aggregate": [{"op": "min", "field": "g", "as": "g"}], "groupby": ["c"]}], "mark": {"type": "rule", "color": "#D65A57", "strokeWidth": 1.5},
               "encoding": {"x": {"datum": "Activated CD4 T", "type": "nominal", "bandPosition": -0.1}, "x2": {"datum": "NK", "bandPosition": 1.1}, "y": {"field": "g", "type": "nominal", "sort": "descending", "bandPosition": 1.1}}},
              {"transform": [{"filter": "datum.k == 'd' && datum.t == 'Decreasing, constant'"}], "mark": {"type": "circle", "opacity": 1},
               "encoding": {
                 "x": {"field": "ct", "type": "nominal", "title": null, "scale": {"domain": ["Activated CD4 T","Cytotoxic CD8 T","Naive B","Naive T","NK"], "paddingInner": 0, "paddingOuter": 0.1}, "axis": {"labelAngle": 270, "labelFontSize": 6.8, "labelPadding": 2, "grid": true, "bandPosition": 0.5}},
                 "y": {"field": "g", "type": "nominal", "sort": "descending"},
                 "size": {"field": "s", "type": "quantitative", "scale": {"domain": [1, 4], "range": [6, 46]}, "legend": null},
                 "color": {"field": "v", "type": "quantitative", "scale": {"domain": [0, 1], "range": ["#132B43", "#56B1F7"]}, "legend": null}}}
            ]
          }
        },
        {
          "data": {"name": "a"},
          "facet": {"row": {"field": "c", "type": "nominal", "header": null,
            "sort": [" ","actin-related protein","amylase","anti-inflammatory-related","autophagy","B cell-related","BEN domain protein","brain acid soluble protein","C4 zing finger nuclear receptor","calcium binding","cell adhesion molecule","chaperone","clef lip-associated","coil domain","endosomal maturation","epimerase/racemase","epithelial stromal interaction","fibrous sheath","G protein-related","growth factor","GTPase-related","hydrolase","immunoglobulin-related","interferon-related","ion channel","kelch domain","kinase-related","ligase","major histocompatibility complex","membrane traffic protein","microtubule binding motor protein","non-receptor serine/threonine protein kinase","oxidoreductase","phosphatase-related","poly a tail protein","protease-related","protein-modifying enzyme","protein binding activity modulator","replication origin binding protein","ribosomal protein","RNA binding","RNA helicase","RNA metabolism protein","RNA processing factor","secondary carrier protein","snRNP-related","TNF-related","transcription factor","transferase","translation release factor","translation-related","transmembrane protein","unknown","viral maturation","viral trafficking"]}},
          "spacing": {"row": 3.5},
          "align": "each",
          "bounds": "flush",
          "resolve": {"scale": {"y": "independent"}},
          "spec": {
            "width": {"step": 13.3},
            "height": {"step": 9.1},
            "layer": [
              {"transform": [{"filter": "datum.c == ' '"}], "mark": {"type": "rect", "fill": "#D9D9D9"},
               "encoding": {"y": {"field": "g", "type": "nominal", "sort": "descending", "bandPosition": -0.1}, "y2": {"field": "g", "bandPosition": 1.1}}},
              {"transform": [{"filter": "isValid(datum.g)"}], "mark": {"type": "point", "opacity": 0},
               "encoding": {"y": {"field": "g", "type": "nominal", "sort": "descending", "scale": {"type": "band", "paddingInner": 0, "paddingOuter": 0.1}, "axis": {"title": null, "labels": false, "ticks": false, "grid": true, "bandPosition": 0.5}}}},
              {"transform": [{"filter": "datum.k == 't' && datum.t == 'Decreasing, ↓velocity'"}], "mark": {"type": "text", "lineBreak": "\n", "fontSize": 9.5, "lineHeight": 11, "dy": -5.5, "color": "#1A1A1A"},
               "encoding": {"y": {"field": "g", "type": "nominal", "sort": "descending"}, "text": {"field": "lab"}}},
              {"transform": [{"filter": "isValid(datum.g)"}, {"aggregate": [{"op": "count", "as": "m"}], "groupby": ["c", "g"]}], "mark": {"type": "rule", "color": "#F2AABB", "strokeWidth": 1.5},
               "encoding": {"x": {"datum": "Activated CD4 T", "type": "nominal", "bandPosition": -0.1}, "y": {"field": "g", "type": "nominal", "sort": "descending", "bandPosition": -0.1}, "y2": {"field": "g", "bandPosition": 1.1}}},
              {"transform": [{"filter": "isValid(datum.g)"}, {"aggregate": [{"op": "count", "as": "m"}], "groupby": ["c", "g"]}], "mark": {"type": "rule", "color": "#F2AABB", "strokeWidth": 1.5},
               "encoding": {"x": {"datum": "XCL+ NKs", "type": "nominal", "bandPosition": 1.1}, "y": {"field": "g", "type": "nominal", "sort": "descending", "bandPosition": -0.1}, "y2": {"field": "g", "bandPosition": 1.1}}},
              {"transform": [{"filter": "datum.g == '~3'"}], "mark": {"type": "rule", "color": "#F2AABB", "strokeWidth": 1.5},
               "encoding": {"x": {"datum": "Activated CD4 T", "type": "nominal", "bandPosition": -0.1}, "x2": {"datum": "XCL+ NKs", "bandPosition": 1.1}, "y": {"field": "g", "type": "nominal", "sort": "descending", "bandPosition": -0.1}}},
              {"transform": [{"filter": "datum.c == 'viral trafficking'"}, {"aggregate": [{"op": "min", "field": "g", "as": "g"}], "groupby": ["c"]}], "mark": {"type": "rule", "color": "#F2AABB", "strokeWidth": 1.5},
               "encoding": {"x": {"datum": "Activated CD4 T", "type": "nominal", "bandPosition": -0.1}, "x2": {"datum": "XCL+ NKs", "bandPosition": 1.1}, "y": {"field": "g", "type": "nominal", "sort": "descending", "bandPosition": 1.1}}},
              {"transform": [{"filter": "datum.k == 'd' && datum.t == 'Decreasing, ↓velocity'"}], "mark": {"type": "circle", "opacity": 1},
               "encoding": {
                 "x": {"field": "ct", "type": "nominal", "title": null, "scale": {"domain": ["Activated CD4 T","Cytotoxic CD8 T","Mem B","Naive B","Naive T","NK","Plasma","XCL+ NKs"], "paddingInner": 0, "paddingOuter": 0.1}, "axis": {"labelAngle": 270, "labelFontSize": 6.8, "labelPadding": 2, "grid": true, "bandPosition": 0.5}},
                 "y": {"field": "g", "type": "nominal", "sort": "descending"},
                 "size": {"field": "s", "type": "quantitative", "scale": {"domain": [1, 4], "range": [6, 46]}, "legend": null},
                 "color": {"field": "v", "type": "quantitative", "scale": {"domain": [0, 1], "range": ["#132B43", "#56B1F7"]}, "legend": null}}}
            ]
          }
        },
        {
          "data": {"name": "a"},
          "facet": {"row": {"field": "c", "type": "nominal", "header": null,
            "sort": [" ","actin-related protein","amylase","anti-inflammatory-related","autophagy","B cell-related","BEN domain protein","brain acid soluble protein","C4 zing finger nuclear receptor","calcium binding","cell adhesion molecule","chaperone","clef lip-associated","coil domain","endosomal maturation","epimerase/racemase","epithelial stromal interaction","fibrous sheath","G protein-related","growth factor","GTPase-related","hydrolase","immunoglobulin-related","interferon-related","ion channel","kelch domain","kinase-related","ligase","major histocompatibility complex","membrane traffic protein","microtubule binding motor protein","non-receptor serine/threonine protein kinase","oxidoreductase","phosphatase-related","poly a tail protein","protease-related","protein-modifying enzyme","protein binding activity modulator","replication origin binding protein","ribosomal protein","RNA binding","RNA helicase","RNA metabolism protein","RNA processing factor","secondary carrier protein","snRNP-related","TNF-related","transcription factor","transferase","translation release factor","translation-related","transmembrane protein","unknown","viral maturation","viral trafficking"]}},
          "spacing": {"row": 3.5},
          "align": "each",
          "bounds": "flush",
          "resolve": {"scale": {"y": "independent"}},
          "spec": {
            "width": {"step": 13.3},
            "height": {"step": 9.1},
            "layer": [
              {"transform": [{"filter": "datum.c == ' '"}], "mark": {"type": "rect", "fill": "#D9D9D9"},
               "encoding": {"y": {"field": "g", "type": "nominal", "sort": "descending", "bandPosition": -0.1}, "y2": {"field": "g", "bandPosition": 1.1}}},
              {"transform": [{"filter": "isValid(datum.g)"}], "mark": {"type": "point", "opacity": 0},
               "encoding": {"y": {"field": "g", "type": "nominal", "sort": "descending", "scale": {"type": "band", "paddingInner": 0, "paddingOuter": 0.1}, "axis": {"title": null, "labels": false, "ticks": false, "grid": true, "bandPosition": 0.5}}}},
              {"transform": [{"filter": "datum.k == 't' && datum.t == 'Increasing, ↑velocity'"}], "mark": {"type": "text", "lineBreak": "\n", "fontSize": 9.5, "lineHeight": 11, "dy": -5.5, "color": "#1A1A1A"},
               "encoding": {"y": {"field": "g", "type": "nominal", "sort": "descending"}, "text": {"field": "lab"}}},
              {"transform": [{"filter": "isValid(datum.g)"}, {"aggregate": [{"op": "count", "as": "m"}], "groupby": ["c", "g"]}], "mark": {"type": "rule", "color": "#4F7FB3", "strokeWidth": 1.5},
               "encoding": {"x": {"datum": "Activated CD4 T", "type": "nominal", "bandPosition": -0.1}, "y": {"field": "g", "type": "nominal", "sort": "descending", "bandPosition": -0.1}, "y2": {"field": "g", "bandPosition": 1.1}}},
              {"transform": [{"filter": "isValid(datum.g)"}, {"aggregate": [{"op": "count", "as": "m"}], "groupby": ["c", "g"]}], "mark": {"type": "rule", "color": "#4F7FB3", "strokeWidth": 1.5},
               "encoding": {"x": {"datum": "XCL+ NKs", "type": "nominal", "bandPosition": 1.1}, "y": {"field": "g", "type": "nominal", "sort": "descending", "bandPosition": -0.1}, "y2": {"field": "g", "bandPosition": 1.1}}},
              {"transform": [{"filter": "datum.g == '~3'"}], "mark": {"type": "rule", "color": "#4F7FB3", "strokeWidth": 1.5},
               "encoding": {"x": {"datum": "Activated CD4 T", "type": "nominal", "bandPosition": -0.1}, "x2": {"datum": "XCL+ NKs", "bandPosition": 1.1}, "y": {"field": "g", "type": "nominal", "sort": "descending", "bandPosition": -0.1}}},
              {"transform": [{"filter": "datum.c == 'viral trafficking'"}, {"aggregate": [{"op": "min", "field": "g", "as": "g"}], "groupby": ["c"]}], "mark": {"type": "rule", "color": "#4F7FB3", "strokeWidth": 1.5},
               "encoding": {"x": {"datum": "Activated CD4 T", "type": "nominal", "bandPosition": -0.1}, "x2": {"datum": "XCL+ NKs", "bandPosition": 1.1}, "y": {"field": "g", "type": "nominal", "sort": "descending", "bandPosition": 1.1}}},
              {"transform": [{"filter": "datum.k == 'd' && datum.t == 'Increasing, ↑velocity'"}], "mark": {"type": "circle", "opacity": 1},
               "encoding": {
                 "x": {"field": "ct", "type": "nominal", "title": "Cell Type", "scale": {"domain": ["Activated CD4 T","Cytotoxic CD8 T","Mem B","Naive B","Naive T","NK","Plasma","XCL+ NKs"], "paddingInner": 0, "paddingOuter": 0.1}, "axis": {"labelAngle": 270, "labelFontSize": 6.8, "labelPadding": 2, "grid": true, "bandPosition": 0.5, "titleFontSize": 8, "titlePadding": 2}},
                 "y": {"field": "g", "type": "nominal", "sort": "descending"},
                 "size": {"field": "s", "type": "quantitative", "scale": {"domain": [1, 4], "range": [6, 46]}, "legend": null},
                 "color": {"field": "v", "type": "quantitative", "scale": {"domain": [0, 1], "range": ["#132B43", "#56B1F7"]}, "legend": null}}}
            ]
          }
        },
        {
          "data": {"name": "a"},
          "facet": {"row": {"field": "c", "type": "nominal", "header": null,
            "sort": [" ","actin-related protein","amylase","anti-inflammatory-related","autophagy","B cell-related","BEN domain protein","brain acid soluble protein","C4 zing finger nuclear receptor","calcium binding","cell adhesion molecule","chaperone","clef lip-associated","coil domain","endosomal maturation","epimerase/racemase","epithelial stromal interaction","fibrous sheath","G protein-related","growth factor","GTPase-related","hydrolase","immunoglobulin-related","interferon-related","ion channel","kelch domain","kinase-related","ligase","major histocompatibility complex","membrane traffic protein","microtubule binding motor protein","non-receptor serine/threonine protein kinase","oxidoreductase","phosphatase-related","poly a tail protein","protease-related","protein-modifying enzyme","protein binding activity modulator","replication origin binding protein","ribosomal protein","RNA binding","RNA helicase","RNA metabolism protein","RNA processing factor","secondary carrier protein","snRNP-related","TNF-related","transcription factor","transferase","translation release factor","translation-related","transmembrane protein","unknown","viral maturation","viral trafficking"]}},
          "spacing": {"row": 3.5},
          "align": "each",
          "bounds": "flush",
          "resolve": {"scale": {"y": "independent"}},
          "spec": {
            "width": {"step": 13.3},
            "height": {"step": 9.1},
            "layer": [
              {"transform": [{"filter": "datum.c == ' '"}], "mark": {"type": "rect", "fill": "#D9D9D9"},
               "encoding": {"y": {"field": "g", "type": "nominal", "sort": "descending", "bandPosition": -0.1}, "y2": {"field": "g", "bandPosition": 1.1}}},
              {"transform": [{"filter": "isValid(datum.g)"}], "mark": {"type": "point", "opacity": 0},
               "encoding": {"y": {"field": "g", "type": "nominal", "sort": "descending", "scale": {"type": "band", "paddingInner": 0, "paddingOuter": 0.1}, "axis": {"title": null, "labels": false, "ticks": false, "grid": true, "bandPosition": 0.5}}}},
              {"transform": [{"filter": "datum.k == 't' && datum.t == 'Increasing, constant'"}], "mark": {"type": "text", "lineBreak": "\n", "fontSize": 9.5, "lineHeight": 11, "dy": -5.5, "color": "#1A1A1A"},
               "encoding": {"y": {"field": "g", "type": "nominal", "sort": "descending"}, "text": {"field": "lab"}}},
              {"transform": [{"filter": "isValid(datum.g)"}, {"aggregate": [{"op": "count", "as": "m"}], "groupby": ["c", "g"]}], "mark": {"type": "rule", "color": "#5B9BD5", "strokeWidth": 1.5},
               "encoding": {"x": {"datum": "Activated CD4 T", "type": "nominal", "bandPosition": -0.1}, "y": {"field": "g", "type": "nominal", "sort": "descending", "bandPosition": -0.1}, "y2": {"field": "g", "bandPosition": 1.1}}},
              {"transform": [{"filter": "isValid(datum.g)"}, {"aggregate": [{"op": "count", "as": "m"}], "groupby": ["c", "g"]}], "mark": {"type": "rule", "color": "#5B9BD5", "strokeWidth": 1.5},
               "encoding": {"x": {"datum": "NK", "type": "nominal", "bandPosition": 1.1}, "y": {"field": "g", "type": "nominal", "sort": "descending", "bandPosition": -0.1}, "y2": {"field": "g", "bandPosition": 1.1}}},
              {"transform": [{"filter": "datum.g == '~3'"}], "mark": {"type": "rule", "color": "#5B9BD5", "strokeWidth": 1.5},
               "encoding": {"x": {"datum": "Activated CD4 T", "type": "nominal", "bandPosition": -0.1}, "x2": {"datum": "NK", "bandPosition": 1.1}, "y": {"field": "g", "type": "nominal", "sort": "descending", "bandPosition": -0.1}}},
              {"transform": [{"filter": "datum.c == 'viral trafficking'"}, {"aggregate": [{"op": "min", "field": "g", "as": "g"}], "groupby": ["c"]}], "mark": {"type": "rule", "color": "#5B9BD5", "strokeWidth": 1.5},
               "encoding": {"x": {"datum": "Activated CD4 T", "type": "nominal", "bandPosition": -0.1}, "x2": {"datum": "NK", "bandPosition": 1.1}, "y": {"field": "g", "type": "nominal", "sort": "descending", "bandPosition": 1.1}}},
              {"transform": [{"filter": "datum.k == 'd' && datum.t == 'Increasing, constant'"}], "mark": {"type": "circle", "opacity": 1},
               "encoding": {
                 "x": {"field": "ct", "type": "nominal", "title": null, "scale": {"domain": ["Activated CD4 T","Cytotoxic CD8 T","Mem B","Naive T","NK"], "paddingInner": 0, "paddingOuter": 0.1}, "axis": {"labelAngle": 270, "labelFontSize": 6.8, "labelPadding": 2, "grid": true, "bandPosition": 0.5}},
                 "y": {"field": "g", "type": "nominal", "sort": "descending"},
                 "size": {"field": "s", "type": "quantitative", "scale": {"domain": [1, 4], "range": [6, 46]}, "legend": null},
                 "color": {"field": "v", "type": "quantitative", "scale": {"domain": [0, 1], "range": ["#132B43", "#56B1F7"]}, "legend": null}}}
            ]
          }
        },
        {
          "data": {"name": "a"},
          "facet": {"row": {"field": "c", "type": "nominal", "header": null,
            "sort": [" ","actin-related protein","amylase","anti-inflammatory-related","autophagy","B cell-related","BEN domain protein","brain acid soluble protein","C4 zing finger nuclear receptor","calcium binding","cell adhesion molecule","chaperone","clef lip-associated","coil domain","endosomal maturation","epimerase/racemase","epithelial stromal interaction","fibrous sheath","G protein-related","growth factor","GTPase-related","hydrolase","immunoglobulin-related","interferon-related","ion channel","kelch domain","kinase-related","ligase","major histocompatibility complex","membrane traffic protein","microtubule binding motor protein","non-receptor serine/threonine protein kinase","oxidoreductase","phosphatase-related","poly a tail protein","protease-related","protein-modifying enzyme","protein binding activity modulator","replication origin binding protein","ribosomal protein","RNA binding","RNA helicase","RNA metabolism protein","RNA processing factor","secondary carrier protein","snRNP-related","TNF-related","transcription factor","transferase","translation release factor","translation-related","transmembrane protein","unknown","viral maturation","viral trafficking"]}},
          "spacing": {"row": 3.5},
          "align": "each",
          "bounds": "flush",
          "resolve": {"scale": {"y": "independent"}},
          "spec": {
            "width": {"step": 13.3},
            "height": {"step": 9.1},
            "layer": [
              {"transform": [{"filter": "datum.c == ' '"}], "mark": {"type": "rect", "fill": "#D9D9D9"},
               "encoding": {"y": {"field": "g", "type": "nominal", "sort": "descending", "bandPosition": -0.1}, "y2": {"field": "g", "bandPosition": 1.1}}},
              {"transform": [{"filter": "isValid(datum.g)"}], "mark": {"type": "point", "opacity": 0},
               "encoding": {"y": {"field": "g", "type": "nominal", "sort": "descending", "scale": {"type": "band", "paddingInner": 0, "paddingOuter": 0.1}, "axis": {"title": null, "labels": false, "ticks": false, "grid": true, "bandPosition": 0.5}}}},
              {"transform": [{"filter": "datum.k == 't' && datum.t == 'Increasing, ↓velocity'"}], "mark": {"type": "text", "lineBreak": "\n", "fontSize": 9.5, "lineHeight": 11, "dy": -5.5, "color": "#1A1A1A"},
               "encoding": {"y": {"field": "g", "type": "nominal", "sort": "descending"}, "text": {"field": "lab"}}},
              {"transform": [{"filter": "isValid(datum.g)"}, {"aggregate": [{"op": "count", "as": "m"}], "groupby": ["c", "g"]}], "mark": {"type": "rule", "color": "#A9C8E8", "strokeWidth": 1.5},
               "encoding": {"x": {"datum": "Activated CD4 T", "type": "nominal", "bandPosition": -0.1}, "y": {"field": "g", "type": "nominal", "sort": "descending", "bandPosition": -0.1}, "y2": {"field": "g", "bandPosition": 1.1}}},
              {"transform": [{"filter": "isValid(datum.g)"}, {"aggregate": [{"op": "count", "as": "m"}], "groupby": ["c", "g"]}], "mark": {"type": "rule", "color": "#A9C8E8", "strokeWidth": 1.5},
               "encoding": {"x": {"datum": "Naive T", "type": "nominal", "bandPosition": 1.1}, "y": {"field": "g", "type": "nominal", "sort": "descending", "bandPosition": -0.1}, "y2": {"field": "g", "bandPosition": 1.1}}},
              {"transform": [{"filter": "datum.g == '~3'"}], "mark": {"type": "rule", "color": "#A9C8E8", "strokeWidth": 1.5},
               "encoding": {"x": {"datum": "Activated CD4 T", "type": "nominal", "bandPosition": -0.1}, "x2": {"datum": "Naive T", "bandPosition": 1.1}, "y": {"field": "g", "type": "nominal", "sort": "descending", "bandPosition": -0.1}}},
              {"transform": [{"filter": "datum.c == 'viral trafficking'"}, {"aggregate": [{"op": "min", "field": "g", "as": "g"}], "groupby": ["c"]}], "mark": {"type": "rule", "color": "#A9C8E8", "strokeWidth": 1.5},
               "encoding": {"x": {"datum": "Activated CD4 T", "type": "nominal", "bandPosition": -0.1}, "x2": {"datum": "Naive T", "bandPosition": 1.1}, "y": {"field": "g", "type": "nominal", "sort": "descending", "bandPosition": 1.1}}},
              {"transform": [{"filter": "datum.k == 'd' && datum.t == 'Increasing, ↓velocity'"}], "mark": {"type": "circle", "opacity": 1},
               "encoding": {
                 "x": {"field": "ct", "type": "nominal", "title": null, "scale": {"domain": ["Activated CD4 T","Cytotoxic CD8 T","Mem B","Naive T"], "paddingInner": 0, "paddingOuter": 0.1}, "axis": {"labelAngle": 270, "labelFontSize": 6.8, "labelPadding": 2, "grid": true, "bandPosition": 0.5}},
                 "y": {"field": "g", "type": "nominal", "sort": "descending"},
                 "size": {"field": "s", "type": "quantitative", "scale": {"domain": [1, 4], "range": [6, 46]}, "legend": null},
                 "color": {"field": "v", "type": "quantitative", "scale": {"domain": [0, 1], "range": ["#132B43", "#56B1F7"]}, "legend": null}}}
            ]
          }
        },
        {
          "data": {"name": "a"},
          "facet": {"row": {"field": "c", "type": "nominal", "header": null,
            "sort": [" ","actin-related protein","amylase","anti-inflammatory-related","autophagy","B cell-related","BEN domain protein","brain acid soluble protein","C4 zing finger nuclear receptor","calcium binding","cell adhesion molecule","chaperone","clef lip-associated","coil domain","endosomal maturation","epimerase/racemase","epithelial stromal interaction","fibrous sheath","G protein-related","growth factor","GTPase-related","hydrolase","immunoglobulin-related","interferon-related","ion channel","kelch domain","kinase-related","ligase","major histocompatibility complex","membrane traffic protein","microtubule binding motor protein","non-receptor serine/threonine protein kinase","oxidoreductase","phosphatase-related","poly a tail protein","protease-related","protein-modifying enzyme","protein binding activity modulator","replication origin binding protein","ribosomal protein","RNA binding","RNA helicase","RNA metabolism protein","RNA processing factor","secondary carrier protein","snRNP-related","TNF-related","transcription factor","transferase","translation release factor","translation-related","transmembrane protein","unknown","viral maturation","viral trafficking"]}},
          "spacing": {"row": 3.5},
          "align": "each",
          "bounds": "flush",
          "resolve": {"scale": {"y": "independent"}},
          "spec": {
            "width": {"step": 13.3},
            "height": {"step": 9.1},
            "layer": [
              {"transform": [{"filter": "datum.c == ' '"}], "mark": {"type": "rect", "fill": "#D9D9D9"},
               "encoding": {"y": {"field": "g", "type": "nominal", "sort": "descending", "bandPosition": -0.1}, "y2": {"field": "g", "bandPosition": 1.1}}},
              {"transform": [{"filter": "isValid(datum.g)"}], "mark": {"type": "point", "opacity": 0},
               "encoding": {"y": {"field": "g", "type": "nominal", "sort": "descending", "scale": {"type": "band", "paddingInner": 0, "paddingOuter": 0.1}, "axis": {"title": null, "labels": false, "ticks": false, "grid": true, "bandPosition": 0.5}}}},
              {"transform": [{"filter": "datum.k == 't' && datum.t == 'Maxima'"}], "mark": {"type": "text", "lineBreak": "\n", "fontSize": 9.5, "lineHeight": 11, "color": "#1A1A1A"},
               "encoding": {"y": {"field": "g", "type": "nominal", "sort": "descending"}, "text": {"field": "lab"}}},
              {"transform": [{"filter": "isValid(datum.g)"}, {"aggregate": [{"op": "count", "as": "m"}], "groupby": ["c", "g"]}], "mark": {"type": "rule", "color": "#5F8A5F", "strokeWidth": 1.5},
               "encoding": {"x": {"datum": "Activated CD4 T", "type": "nominal", "bandPosition": -0.1}, "y": {"field": "g", "type": "nominal", "sort": "descending", "bandPosition": -0.1}, "y2": {"field": "g", "bandPosition": 1.1}}},
              {"transform": [{"filter": "isValid(datum.g)"}, {"aggregate": [{"op": "count", "as": "m"}], "groupby": ["c", "g"]}], "mark": {"type": "rule", "color": "#5F8A5F", "strokeWidth": 1.5},
               "encoding": {"x": {"datum": "Mem B", "type": "nominal", "bandPosition": 1.1}, "y": {"field": "g", "type": "nominal", "sort": "descending", "bandPosition": -0.1}, "y2": {"field": "g", "bandPosition": 1.1}}},
              {"transform": [{"filter": "datum.g == '~3'"}], "mark": {"type": "rule", "color": "#5F8A5F", "strokeWidth": 1.5},
               "encoding": {"x": {"datum": "Activated CD4 T", "type": "nominal", "bandPosition": -0.1}, "x2": {"datum": "Mem B", "bandPosition": 1.1}, "y": {"field": "g", "type": "nominal", "sort": "descending", "bandPosition": -0.1}}},
              {"transform": [{"filter": "datum.c == 'viral trafficking'"}, {"aggregate": [{"op": "min", "field": "g", "as": "g"}], "groupby": ["c"]}], "mark": {"type": "rule", "color": "#5F8A5F", "strokeWidth": 1.5},
               "encoding": {"x": {"datum": "Activated CD4 T", "type": "nominal", "bandPosition": -0.1}, "x2": {"datum": "Mem B", "bandPosition": 1.1}, "y": {"field": "g", "type": "nominal", "sort": "descending", "bandPosition": 1.1}}},
              {"transform": [{"filter": "datum.k == 'd' && datum.t == 'Maxima'"}], "mark": {"type": "circle", "opacity": 1},
               "encoding": {
                 "x": {"field": "ct", "type": "nominal", "title": null, "scale": {"domain": ["Activated CD4 T","Cytotoxic CD8 T","Mem B"], "paddingInner": 0, "paddingOuter": 0.1}, "axis": {"labelAngle": 270, "labelFontSize": 6.8, "labelPadding": 2, "grid": true, "bandPosition": 0.5}},
                 "y": {"field": "g", "type": "nominal", "sort": "descending"},
                 "size": {"field": "s", "type": "quantitative", "scale": {"domain": [1, 4], "range": [6, 46]}, "legend": null},
                 "color": {"field": "v", "type": "quantitative", "scale": {"domain": [0, 1], "range": ["#132B43", "#56B1F7"]}, "legend": null}}}
            ]
          }
        },
        {
          "data": {"name": "a"},
          "facet": {"row": {"field": "c", "type": "nominal", "header": null,
            "sort": [" ","actin-related protein","amylase","anti-inflammatory-related","autophagy","B cell-related","BEN domain protein","brain acid soluble protein","C4 zing finger nuclear receptor","calcium binding","cell adhesion molecule","chaperone","clef lip-associated","coil domain","endosomal maturation","epimerase/racemase","epithelial stromal interaction","fibrous sheath","G protein-related","growth factor","GTPase-related","hydrolase","immunoglobulin-related","interferon-related","ion channel","kelch domain","kinase-related","ligase","major histocompatibility complex","membrane traffic protein","microtubule binding motor protein","non-receptor serine/threonine protein kinase","oxidoreductase","phosphatase-related","poly a tail protein","protease-related","protein-modifying enzyme","protein binding activity modulator","replication origin binding protein","ribosomal protein","RNA binding","RNA helicase","RNA metabolism protein","RNA processing factor","secondary carrier protein","snRNP-related","TNF-related","transcription factor","transferase","translation release factor","translation-related","transmembrane protein","unknown","viral maturation","viral trafficking"]}},
          "spacing": {"row": 3.5},
          "align": "each",
          "bounds": "flush",
          "resolve": {"scale": {"y": "independent"}},
          "spec": {
            "width": {"step": 13.3},
            "height": {"step": 9.1},
            "layer": [
              {"transform": [{"filter": "datum.c == ' '"}], "mark": {"type": "rect", "fill": "#D9D9D9"},
               "encoding": {"y": {"field": "g", "type": "nominal", "sort": "descending", "bandPosition": -0.1}, "y2": {"field": "g", "bandPosition": 1.1}}},
              {"transform": [{"filter": "isValid(datum.g)"}], "mark": {"type": "point", "opacity": 0},
               "encoding": {"y": {"field": "g", "type": "nominal", "sort": "descending", "scale": {"type": "band", "paddingInner": 0, "paddingOuter": 0.1}, "axis": {"title": null, "labels": false, "ticks": false, "grid": true, "bandPosition": 0.5}}}},
              {"transform": [{"filter": "datum.k == 't' && datum.t == 'Minima'"}], "mark": {"type": "text", "lineBreak": "\n", "fontSize": 9.5, "lineHeight": 11, "dy": -4, "color": "#1A1A1A"},
               "encoding": {"y": {"field": "g", "type": "nominal", "sort": "descending"}, "text": {"field": "lab"}}},
              {"transform": [{"filter": "isValid(datum.g)"}, {"aggregate": [{"op": "count", "as": "m"}], "groupby": ["c", "g"]}], "mark": {"type": "rule", "color": "#F0A35E", "strokeWidth": 1.5},
               "encoding": {"x": {"datum": "Activated CD4 T", "type": "nominal", "bandPosition": -0.1}, "y": {"field": "g", "type": "nominal", "sort": "descending", "bandPosition": -0.1}, "y2": {"field": "g", "bandPosition": 1.1}}},
              {"transform": [{"filter": "isValid(datum.g)"}, {"aggregate": [{"op": "count", "as": "m"}], "groupby": ["c", "g"]}], "mark": {"type": "rule", "color": "#F0A35E", "strokeWidth": 1.5},
               "encoding": {"x": {"datum": "XCL+ NKs", "type": "nominal", "bandPosition": 1.1}, "y": {"field": "g", "type": "nominal", "sort": "descending", "bandPosition": -0.1}, "y2": {"field": "g", "bandPosition": 1.1}}},
              {"transform": [{"filter": "datum.g == '~3'"}], "mark": {"type": "rule", "color": "#F0A35E", "strokeWidth": 1.5},
               "encoding": {"x": {"datum": "Activated CD4 T", "type": "nominal", "bandPosition": -0.1}, "x2": {"datum": "XCL+ NKs", "bandPosition": 1.1}, "y": {"field": "g", "type": "nominal", "sort": "descending", "bandPosition": -0.1}}},
              {"transform": [{"filter": "datum.c == 'viral trafficking'"}, {"aggregate": [{"op": "min", "field": "g", "as": "g"}], "groupby": ["c"]}], "mark": {"type": "rule", "color": "#F0A35E", "strokeWidth": 1.5},
               "encoding": {"x": {"datum": "Activated CD4 T", "type": "nominal", "bandPosition": -0.1}, "x2": {"datum": "XCL+ NKs", "bandPosition": 1.1}, "y": {"field": "g", "type": "nominal", "sort": "descending", "bandPosition": 1.1}}},
              {"transform": [{"filter": "datum.k == 'd' && datum.t == 'Minima'"}], "mark": {"type": "circle", "opacity": 1},
               "encoding": {
                 "x": {"field": "ct", "type": "nominal", "title": null, "scale": {"domain": ["Activated CD4 T","Cytotoxic CD8 T","Mem B","Naive B","NK","Plasma","XCL+ NKs"], "paddingInner": 0, "paddingOuter": 0.1}, "axis": {"labelAngle": 270, "labelFontSize": 6.8, "labelPadding": 2, "grid": true, "bandPosition": 0.5}},
                 "y": {"field": "g", "type": "nominal", "sort": "descending"},
                 "size": {"field": "s", "type": "quantitative", "scale": {"domain": [1, 4], "range": [6, 46]}, "legend": null},
                 "color": {"field": "v", "type": "quantitative", "scale": {"domain": [0, 1], "range": ["#132B43", "#56B1F7"]}, "legend": null}}}
            ]
          }
        },
        {
          "data": {"name": "a"},
          "facet": {"row": {"field": "c", "type": "nominal", "header": null,
            "sort": [" ","actin-related protein","amylase","anti-inflammatory-related","autophagy","B cell-related","BEN domain protein","brain acid soluble protein","C4 zing finger nuclear receptor","calcium binding","cell adhesion molecule","chaperone","clef lip-associated","coil domain","endosomal maturation","epimerase/racemase","epithelial stromal interaction","fibrous sheath","G protein-related","growth factor","GTPase-related","hydrolase","immunoglobulin-related","interferon-related","ion channel","kelch domain","kinase-related","ligase","major histocompatibility complex","membrane traffic protein","microtubule binding motor protein","non-receptor serine/threonine protein kinase","oxidoreductase","phosphatase-related","poly a tail protein","protease-related","protein-modifying enzyme","protein binding activity modulator","replication origin binding protein","ribosomal protein","RNA binding","RNA helicase","RNA metabolism protein","RNA processing factor","secondary carrier protein","snRNP-related","TNF-related","transcription factor","transferase","translation release factor","translation-related","transmembrane protein","unknown","viral maturation","viral trafficking"]}},
          "spacing": {"row": 3.5},
          "align": "each",
          "bounds": "flush",
          "resolve": {"scale": {"y": "independent"}},
          "spec": {
            "width": 216,
            "height": {"step": 9.1},
            "view": {"fill": null, "stroke": null},
            "layer": [
              {"transform": [{"filter": "isValid(datum.g)"}], "mark": {"type": "point", "opacity": 0},
               "encoding": {"y": {"field": "g", "type": "nominal", "sort": "descending", "scale": {"type": "band", "paddingInner": 0, "paddingOuter": 0.1}, "axis": null}}},
              {"transform": [{"filter": "datum.k == 'd'"}, {"aggregate": [{"op": "count", "as": "m"}], "groupby": ["c", "g"]}], "mark": {"type": "rect", "fill": "#D9D9D9"},
               "encoding": {"y": {"field": "g", "type": "nominal", "sort": "descending", "bandPosition": -0.1}, "y2": {"field": "g", "bandPosition": 1.1}}},
              {"transform": [{"filter": "datum.k == 'd'"}, {"aggregate": [{"op": "count", "as": "m"}], "groupby": ["c", "g"]},
                {"window": [{"op": "row_number", "as": "r"}], "groupby": ["c"], "sort": [{"field": "g", "order": "descending"}]},
                {"joinaggregate": [{"op": "count", "as": "n"}], "groupby": ["c"]},
                {"filter": "datum.n % 2 == 1 && datum.r == (datum.n + 1) / 2"}],
               "mark": {"type": "text", "fontSize": 9.5, "color": "#1A1A1A"},
               "encoding": {"y": {"field": "g", "type": "nominal", "sort": "descending", "bandPosition": 0.5}, "text": {"field": "c"}}},
              {"transform": [{"filter": "datum.k == 'd'"}, {"aggregate": [{"op": "count", "as": "m"}], "groupby": ["c", "g"]},
                {"window": [{"op": "row_number", "as": "r"}], "groupby": ["c"], "sort": [{"field": "g", "order": "descending"}]},
                {"joinaggregate": [{"op": "count", "as": "n"}], "groupby": ["c"]},
                {"filter": "datum.n % 2 == 0 && datum.r == datum.n / 2 + 1"}],
               "mark": {"type": "text", "fontSize": 9.5, "color": "#1A1A1A"},
               "encoding": {"y": {"field": "g", "type": "nominal", "sort": "descending", "bandPosition": 0}, "text": {"field": "c"}}}
            ]
          }
        }
      ]
    },
    {
      "data": {"name": "b"},
      "width": 317,
      "height": 1850,
      "transform": [{"calculate": "indexof(['Decreasing, ↑velocity','Decreasing, constant','Decreasing, ↓velocity','Increasing, ↑velocity','Increasing, constant','Increasing, ↓velocity','Maxima','Minima'], datum.t)", "as": "o"}],
      "layer": [
        {
          "mark": {"type": "bar"},
          "encoding": {
            "x": {"field": "ct", "type": "nominal", "title": "Cell Type",
              "sort": ["Activated CD4 T","Cytotoxic CD8 T","Mem B","Naive B","Naive T","NK","Plasma","XCL+ NKs"],
              "scale": {"paddingInner": 0.11, "paddingOuter": 0.06},
              "axis": {"labelAngle": 270, "labelFontSize": 7, "labelPadding": 2, "grid": true, "bandPosition": 0.5, "titleFontSize": 8}},
            "y": {"field": "n", "type": "quantitative", "title": "Number of Significant Genes",
              "scale": {"domain": [0, 80], "nice": false},
              "axis": {"values": [0,10,20,30,40,50,60,70,80], "labelExpr": "datum.value % 20 == 0 ? datum.label : ''", "labelFontSize": 6, "titleFontSize": 7.5, "titlePadding": 2,
                "gridWidth": {"condition": {"test": "datum.value % 20 == 0", "value": 1.1}, "value": 0.5},
                "tickOpacity": {"condition": {"test": "datum.value % 20 == 0", "value": 1}, "value": 0}}},
            "order": {"field": "o", "type": "quantitative", "sort": "descending"},
            "color": {"field": "t", "type": "nominal",
              "scale": {"domain": ["Decreasing, ↑velocity","Decreasing, constant","Decreasing, ↓velocity","Increasing, ↑velocity","Increasing, constant","Increasing, ↓velocity","Maxima","Minima"],
                        "range": ["#8B0000","#FF0000","#FFC0CB","#000080","#0000FF","#87CEEB","#006400","#FFA500"]},
              "legend": {"title": "Trend", "orient": "none", "legendX": 327, "legendY": 872, "titleFontSize": 12, "titleFontWeight": "normal", "titleAnchor": "middle",
                "labelFontSize": 9.5, "symbolType": "square", "symbolSize": 110, "symbolStrokeWidth": 0, "rowPadding": 0.5, "labelOffset": 2}}
          }
        },
        {
          "mark": {"type": "rule", "opacity": 0},
          "encoding": {
            "y": {"datum": 0, "type": "quantitative",
              "axis": {"orient": "right", "title": "B", "titleAngle": 0, "titleFontSize": 26, "titleFontWeight": "bold", "titleColor": "#000000", "titleAnchor": "end", "titleAlign": "left", "titleBaseline": "top", "titlePadding": 10, "labels": false, "ticks": false, "grid": false, "domain": false, "values": []}}
          }
        }
      ],
      "resolve": {"axis": {"y": "independent"}}
    }
  ],
  "config": {
    "font": "Liberation Sans",
    "view": {"fill": "#EBEBEB", "stroke": null},
    "axis": {"domain": false, "gridColor": "#FFFFFF", "gridWidth": 1, "tickColor": "#333333", "tickSize": 2.5, "labelColor": "#4D4D4D", "titleColor": "#1A1A1A", "titleFontWeight": "normal", "labelFont": "Liberation Sans", "titleFont": "Liberation Sans"},
    "header": {"labelFont": "Liberation Sans", "titleFont": "Liberation Sans"},
    "legend": {"labelFont": "Liberation Sans", "titleFont": "Liberation Sans", "labelColor": "#1A1A1A", "titleColor": "#1A1A1A"},
    "title": {"font": "Liberation Sans"}
  }
}
